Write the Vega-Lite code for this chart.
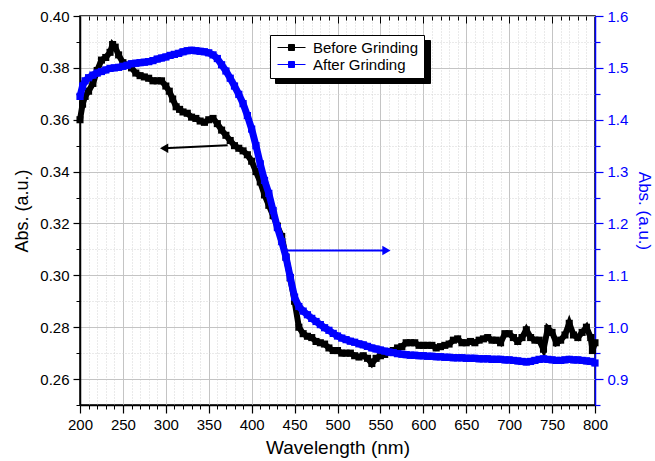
{
  "$schema": "https://vega.github.io/schema/vega-lite/v6.json",
  "width": 515,
  "height": 389,
  "autosize": {"type": "none"},
  "padding": {"left": 80, "top": 16, "right": 60, "bottom": 56},
  "background": "white",
  "config": {
    "view": {"stroke": "black", "strokeWidth": 1.5},
    "font": "Liberation Sans",
    "axis": {"labelFont": "Liberation Sans", "titleFont": "Liberation Sans", "labelFontSize": 15, "titleFontSize": 18, "titleFontWeight": "normal", "labelFlush": false},
    "legend": {"labelFont": "Liberation Sans"}
  },
  "datasets": {
    "spectra": [
      {"wl": 200, "abs": 0.360, "series": "Before Grinding"},
      {"wl": 203, "abs": 0.366, "series": "Before Grinding"},
      {"wl": 206, "abs": 0.369, "series": "Before Grinding"},
      {"wl": 210, "abs": 0.371, "series": "Before Grinding"},
      {"wl": 215, "abs": 0.374, "series": "Before Grinding"},
      {"wl": 220, "abs": 0.379, "series": "Before Grinding"},
      {"wl": 225, "abs": 0.383, "series": "Before Grinding"},
      {"wl": 230, "abs": 0.384, "series": "Before Grinding"},
      {"wl": 235, "abs": 0.386, "series": "Before Grinding"},
      {"wl": 238, "abs": 0.389, "series": "Before Grinding"},
      {"wl": 241, "abs": 0.388, "series": "Before Grinding"},
      {"wl": 245, "abs": 0.385, "series": "Before Grinding"},
      {"wl": 250, "abs": 0.382, "series": "Before Grinding"},
      {"wl": 255, "abs": 0.381, "series": "Before Grinding"},
      {"wl": 260, "abs": 0.380, "series": "Before Grinding"},
      {"wl": 265, "abs": 0.378, "series": "Before Grinding"},
      {"wl": 270, "abs": 0.377, "series": "Before Grinding"},
      {"wl": 275, "abs": 0.3765, "series": "Before Grinding"},
      {"wl": 280, "abs": 0.376, "series": "Before Grinding"},
      {"wl": 285, "abs": 0.375, "series": "Before Grinding"},
      {"wl": 290, "abs": 0.375, "series": "Before Grinding"},
      {"wl": 295, "abs": 0.375, "series": "Before Grinding"},
      {"wl": 300, "abs": 0.373, "series": "Before Grinding"},
      {"wl": 304, "abs": 0.371, "series": "Before Grinding"},
      {"wl": 308, "abs": 0.368, "series": "Before Grinding"},
      {"wl": 312, "abs": 0.365, "series": "Before Grinding"},
      {"wl": 316, "abs": 0.364, "series": "Before Grinding"},
      {"wl": 320, "abs": 0.363, "series": "Before Grinding"},
      {"wl": 325, "abs": 0.3625, "series": "Before Grinding"},
      {"wl": 330, "abs": 0.361, "series": "Before Grinding"},
      {"wl": 335, "abs": 0.3605, "series": "Before Grinding"},
      {"wl": 340, "abs": 0.3595, "series": "Before Grinding"},
      {"wl": 345, "abs": 0.359, "series": "Before Grinding"},
      {"wl": 350, "abs": 0.360, "series": "Before Grinding"},
      {"wl": 355, "abs": 0.3605, "series": "Before Grinding"},
      {"wl": 360, "abs": 0.3585, "series": "Before Grinding"},
      {"wl": 365, "abs": 0.356, "series": "Before Grinding"},
      {"wl": 370, "abs": 0.354, "series": "Before Grinding"},
      {"wl": 375, "abs": 0.352, "series": "Before Grinding"},
      {"wl": 380, "abs": 0.350, "series": "Before Grinding"},
      {"wl": 385, "abs": 0.349, "series": "Before Grinding"},
      {"wl": 390, "abs": 0.348, "series": "Before Grinding"},
      {"wl": 395, "abs": 0.3465, "series": "Before Grinding"},
      {"wl": 400, "abs": 0.344, "series": "Before Grinding"},
      {"wl": 405, "abs": 0.340, "series": "Before Grinding"},
      {"wl": 410, "abs": 0.336, "series": "Before Grinding"},
      {"wl": 415, "abs": 0.331, "series": "Before Grinding"},
      {"wl": 420, "abs": 0.327, "series": "Before Grinding"},
      {"wl": 425, "abs": 0.323, "series": "Before Grinding"},
      {"wl": 430, "abs": 0.319, "series": "Before Grinding"},
      {"wl": 435, "abs": 0.315, "series": "Before Grinding"},
      {"wl": 440, "abs": 0.307, "series": "Before Grinding"},
      {"wl": 445, "abs": 0.299, "series": "Before Grinding"},
      {"wl": 450, "abs": 0.290, "series": "Before Grinding"},
      {"wl": 455, "abs": 0.280, "series": "Before Grinding"},
      {"wl": 460, "abs": 0.2775, "series": "Before Grinding"},
      {"wl": 465, "abs": 0.2765, "series": "Before Grinding"},
      {"wl": 470, "abs": 0.276, "series": "Before Grinding"},
      {"wl": 475, "abs": 0.2745, "series": "Before Grinding"},
      {"wl": 480, "abs": 0.274, "series": "Before Grinding"},
      {"wl": 485, "abs": 0.2735, "series": "Before Grinding"},
      {"wl": 490, "abs": 0.272, "series": "Before Grinding"},
      {"wl": 495, "abs": 0.271, "series": "Before Grinding"},
      {"wl": 500, "abs": 0.271, "series": "Before Grinding"},
      {"wl": 505, "abs": 0.270, "series": "Before Grinding"},
      {"wl": 510, "abs": 0.270, "series": "Before Grinding"},
      {"wl": 515, "abs": 0.270, "series": "Before Grinding"},
      {"wl": 520, "abs": 0.269, "series": "Before Grinding"},
      {"wl": 525, "abs": 0.2685, "series": "Before Grinding"},
      {"wl": 530, "abs": 0.269, "series": "Before Grinding"},
      {"wl": 535, "abs": 0.268, "series": "Before Grinding"},
      {"wl": 540, "abs": 0.266, "series": "Before Grinding"},
      {"wl": 545, "abs": 0.268, "series": "Before Grinding"},
      {"wl": 550, "abs": 0.269, "series": "Before Grinding"},
      {"wl": 555, "abs": 0.2695, "series": "Before Grinding"},
      {"wl": 560, "abs": 0.2705, "series": "Before Grinding"},
      {"wl": 565, "abs": 0.271, "series": "Before Grinding"},
      {"wl": 570, "abs": 0.272, "series": "Before Grinding"},
      {"wl": 575, "abs": 0.2725, "series": "Before Grinding"},
      {"wl": 580, "abs": 0.274, "series": "Before Grinding"},
      {"wl": 585, "abs": 0.274, "series": "Before Grinding"},
      {"wl": 590, "abs": 0.274, "series": "Before Grinding"},
      {"wl": 595, "abs": 0.273, "series": "Before Grinding"},
      {"wl": 600, "abs": 0.273, "series": "Before Grinding"},
      {"wl": 605, "abs": 0.273, "series": "Before Grinding"},
      {"wl": 610, "abs": 0.273, "series": "Before Grinding"},
      {"wl": 615, "abs": 0.272, "series": "Before Grinding"},
      {"wl": 620, "abs": 0.2725, "series": "Before Grinding"},
      {"wl": 625, "abs": 0.273, "series": "Before Grinding"},
      {"wl": 630, "abs": 0.2735, "series": "Before Grinding"},
      {"wl": 635, "abs": 0.275, "series": "Before Grinding"},
      {"wl": 640, "abs": 0.2755, "series": "Before Grinding"},
      {"wl": 645, "abs": 0.274, "series": "Before Grinding"},
      {"wl": 650, "abs": 0.274, "series": "Before Grinding"},
      {"wl": 655, "abs": 0.2745, "series": "Before Grinding"},
      {"wl": 660, "abs": 0.274, "series": "Before Grinding"},
      {"wl": 665, "abs": 0.275, "series": "Before Grinding"},
      {"wl": 670, "abs": 0.2755, "series": "Before Grinding"},
      {"wl": 675, "abs": 0.276, "series": "Before Grinding"},
      {"wl": 680, "abs": 0.275, "series": "Before Grinding"},
      {"wl": 685, "abs": 0.275, "series": "Before Grinding"},
      {"wl": 690, "abs": 0.274, "series": "Before Grinding"},
      {"wl": 695, "abs": 0.2775, "series": "Before Grinding"},
      {"wl": 700, "abs": 0.2775, "series": "Before Grinding"},
      {"wl": 705, "abs": 0.276, "series": "Before Grinding"},
      {"wl": 710, "abs": 0.2745, "series": "Before Grinding"},
      {"wl": 715, "abs": 0.276, "series": "Before Grinding"},
      {"wl": 720, "abs": 0.279, "series": "Before Grinding"},
      {"wl": 725, "abs": 0.276, "series": "Before Grinding"},
      {"wl": 730, "abs": 0.275, "series": "Before Grinding"},
      {"wl": 735, "abs": 0.275, "series": "Before Grinding"},
      {"wl": 740, "abs": 0.2715, "series": "Before Grinding"},
      {"wl": 745, "abs": 0.2795, "series": "Before Grinding"},
      {"wl": 750, "abs": 0.278, "series": "Before Grinding"},
      {"wl": 755, "abs": 0.274, "series": "Before Grinding"},
      {"wl": 760, "abs": 0.275, "series": "Before Grinding"},
      {"wl": 765, "abs": 0.277, "series": "Before Grinding"},
      {"wl": 770, "abs": 0.2815, "series": "Before Grinding"},
      {"wl": 775, "abs": 0.277, "series": "Before Grinding"},
      {"wl": 780, "abs": 0.276, "series": "Before Grinding"},
      {"wl": 785, "abs": 0.278, "series": "Before Grinding"},
      {"wl": 790, "abs": 0.280, "series": "Before Grinding"},
      {"wl": 795, "abs": 0.276, "series": "Before Grinding"},
      {"wl": 797, "abs": 0.271, "series": "Before Grinding"},
      {"wl": 800, "abs": 0.274, "series": "Before Grinding"},
      {"wl": 200, "abs": 1.445, "series": "After Grinding"},
      {"wl": 203, "abs": 1.465, "series": "After Grinding"},
      {"wl": 206, "abs": 1.475, "series": "After Grinding"},
      {"wl": 210, "abs": 1.481, "series": "After Grinding"},
      {"wl": 215, "abs": 1.486, "series": "After Grinding"},
      {"wl": 220, "abs": 1.490, "series": "After Grinding"},
      {"wl": 225, "abs": 1.493, "series": "After Grinding"},
      {"wl": 230, "abs": 1.496, "series": "After Grinding"},
      {"wl": 235, "abs": 1.499, "series": "After Grinding"},
      {"wl": 240, "abs": 1.500, "series": "After Grinding"},
      {"wl": 245, "abs": 1.501, "series": "After Grinding"},
      {"wl": 250, "abs": 1.503, "series": "After Grinding"},
      {"wl": 255, "abs": 1.505, "series": "After Grinding"},
      {"wl": 260, "abs": 1.508, "series": "After Grinding"},
      {"wl": 265, "abs": 1.509, "series": "After Grinding"},
      {"wl": 270, "abs": 1.510, "series": "After Grinding"},
      {"wl": 275, "abs": 1.511, "series": "After Grinding"},
      {"wl": 280, "abs": 1.512, "series": "After Grinding"},
      {"wl": 285, "abs": 1.514, "series": "After Grinding"},
      {"wl": 290, "abs": 1.517, "series": "After Grinding"},
      {"wl": 295, "abs": 1.519, "series": "After Grinding"},
      {"wl": 300, "abs": 1.521, "series": "After Grinding"},
      {"wl": 305, "abs": 1.524, "series": "After Grinding"},
      {"wl": 310, "abs": 1.526, "series": "After Grinding"},
      {"wl": 315, "abs": 1.528, "series": "After Grinding"},
      {"wl": 320, "abs": 1.531, "series": "After Grinding"},
      {"wl": 325, "abs": 1.533, "series": "After Grinding"},
      {"wl": 330, "abs": 1.534, "series": "After Grinding"},
      {"wl": 335, "abs": 1.533, "series": "After Grinding"},
      {"wl": 340, "abs": 1.532, "series": "After Grinding"},
      {"wl": 345, "abs": 1.531, "series": "After Grinding"},
      {"wl": 350, "abs": 1.529, "series": "After Grinding"},
      {"wl": 355, "abs": 1.525, "series": "After Grinding"},
      {"wl": 360, "abs": 1.518, "series": "After Grinding"},
      {"wl": 365, "abs": 1.506, "series": "After Grinding"},
      {"wl": 370, "abs": 1.494, "series": "After Grinding"},
      {"wl": 375, "abs": 1.480, "series": "After Grinding"},
      {"wl": 380, "abs": 1.465, "series": "After Grinding"},
      {"wl": 385, "abs": 1.449, "series": "After Grinding"},
      {"wl": 390, "abs": 1.431, "series": "After Grinding"},
      {"wl": 395, "abs": 1.408, "series": "After Grinding"},
      {"wl": 400, "abs": 1.382, "series": "After Grinding"},
      {"wl": 405, "abs": 1.350, "series": "After Grinding"},
      {"wl": 410, "abs": 1.315, "series": "After Grinding"},
      {"wl": 415, "abs": 1.283, "series": "After Grinding"},
      {"wl": 420, "abs": 1.258, "series": "After Grinding"},
      {"wl": 425, "abs": 1.225, "series": "After Grinding"},
      {"wl": 430, "abs": 1.192, "series": "After Grinding"},
      {"wl": 435, "abs": 1.165, "series": "After Grinding"},
      {"wl": 440, "abs": 1.135, "series": "After Grinding"},
      {"wl": 445, "abs": 1.096, "series": "After Grinding"},
      {"wl": 450, "abs": 1.058, "series": "After Grinding"},
      {"wl": 455, "abs": 1.040, "series": "After Grinding"},
      {"wl": 460, "abs": 1.031, "series": "After Grinding"},
      {"wl": 465, "abs": 1.024, "series": "After Grinding"},
      {"wl": 470, "abs": 1.017, "series": "After Grinding"},
      {"wl": 475, "abs": 1.011, "series": "After Grinding"},
      {"wl": 480, "abs": 1.005, "series": "After Grinding"},
      {"wl": 485, "abs": 0.999, "series": "After Grinding"},
      {"wl": 490, "abs": 0.994, "series": "After Grinding"},
      {"wl": 495, "abs": 0.988, "series": "After Grinding"},
      {"wl": 500, "abs": 0.983, "series": "After Grinding"},
      {"wl": 505, "abs": 0.979, "series": "After Grinding"},
      {"wl": 510, "abs": 0.976, "series": "After Grinding"},
      {"wl": 515, "abs": 0.973, "series": "After Grinding"},
      {"wl": 520, "abs": 0.971, "series": "After Grinding"},
      {"wl": 525, "abs": 0.968, "series": "After Grinding"},
      {"wl": 530, "abs": 0.966, "series": "After Grinding"},
      {"wl": 535, "abs": 0.963, "series": "After Grinding"},
      {"wl": 540, "abs": 0.960, "series": "After Grinding"},
      {"wl": 545, "abs": 0.958, "series": "After Grinding"},
      {"wl": 550, "abs": 0.956, "series": "After Grinding"},
      {"wl": 555, "abs": 0.954, "series": "After Grinding"},
      {"wl": 560, "abs": 0.952, "series": "After Grinding"},
      {"wl": 565, "abs": 0.951, "series": "After Grinding"},
      {"wl": 570, "abs": 0.949, "series": "After Grinding"},
      {"wl": 575, "abs": 0.948, "series": "After Grinding"},
      {"wl": 580, "abs": 0.947, "series": "After Grinding"},
      {"wl": 585, "abs": 0.946, "series": "After Grinding"},
      {"wl": 590, "abs": 0.946, "series": "After Grinding"},
      {"wl": 595, "abs": 0.945, "series": "After Grinding"},
      {"wl": 600, "abs": 0.945, "series": "After Grinding"},
      {"wl": 605, "abs": 0.944, "series": "After Grinding"},
      {"wl": 610, "abs": 0.944, "series": "After Grinding"},
      {"wl": 615, "abs": 0.943, "series": "After Grinding"},
      {"wl": 620, "abs": 0.943, "series": "After Grinding"},
      {"wl": 625, "abs": 0.942, "series": "After Grinding"},
      {"wl": 630, "abs": 0.942, "series": "After Grinding"},
      {"wl": 635, "abs": 0.941, "series": "After Grinding"},
      {"wl": 640, "abs": 0.941, "series": "After Grinding"},
      {"wl": 645, "abs": 0.941, "series": "After Grinding"},
      {"wl": 650, "abs": 0.940, "series": "After Grinding"},
      {"wl": 655, "abs": 0.940, "series": "After Grinding"},
      {"wl": 660, "abs": 0.940, "series": "After Grinding"},
      {"wl": 665, "abs": 0.939, "series": "After Grinding"},
      {"wl": 670, "abs": 0.939, "series": "After Grinding"},
      {"wl": 675, "abs": 0.939, "series": "After Grinding"},
      {"wl": 680, "abs": 0.938, "series": "After Grinding"},
      {"wl": 685, "abs": 0.938, "series": "After Grinding"},
      {"wl": 690, "abs": 0.938, "series": "After Grinding"},
      {"wl": 695, "abs": 0.937, "series": "After Grinding"},
      {"wl": 700, "abs": 0.937, "series": "After Grinding"},
      {"wl": 705, "abs": 0.936, "series": "After Grinding"},
      {"wl": 710, "abs": 0.935, "series": "After Grinding"},
      {"wl": 715, "abs": 0.934, "series": "After Grinding"},
      {"wl": 720, "abs": 0.933, "series": "After Grinding"},
      {"wl": 725, "abs": 0.934, "series": "After Grinding"},
      {"wl": 730, "abs": 0.936, "series": "After Grinding"},
      {"wl": 735, "abs": 0.938, "series": "After Grinding"},
      {"wl": 740, "abs": 0.939, "series": "After Grinding"},
      {"wl": 745, "abs": 0.938, "series": "After Grinding"},
      {"wl": 750, "abs": 0.937, "series": "After Grinding"},
      {"wl": 755, "abs": 0.936, "series": "After Grinding"},
      {"wl": 760, "abs": 0.936, "series": "After Grinding"},
      {"wl": 765, "abs": 0.937, "series": "After Grinding"},
      {"wl": 770, "abs": 0.938, "series": "After Grinding"},
      {"wl": 775, "abs": 0.937, "series": "After Grinding"},
      {"wl": 780, "abs": 0.937, "series": "After Grinding"},
      {"wl": 785, "abs": 0.936, "series": "After Grinding"},
      {"wl": 790, "abs": 0.935, "series": "After Grinding"},
      {"wl": 795, "abs": 0.934, "series": "After Grinding"},
      {"wl": 800, "abs": 0.931, "series": "After Grinding"}
    ],
    "arrows": [
      {"arrow": "left", "x_start": 372, "y_start": 0.3502, "x_end": 298, "y_end": 0.3490},
      {"arrow": "right", "x_start": 441, "y_start": 1.148, "x_end": 557, "y_end": 1.148}
    ]
  },
  "resolve": {"scale": {"x": "independent", "y": "independent"}, "axis": {"x": "independent", "y": "independent"}},
  "layer": [
    {
      "data": {"name": "spectra"},
      "transform": [{"filter": "datum.series === 'Before Grinding'"}],
      "mark": {"type": "point", "opacity": 0},
      "encoding": {
        "x": {"field": "wl", "type": "quantitative", "scale": {"domain": [200, 800], "nice": false, "zero": false},
          "axis": {"orient": "bottom", "values": [210,220,230,240,260,270,280,290,310,320,330,340,360,370,380,390,410,420,430,440,460,470,480,490,510,520,530,540,560,570,580,590,610,620,630,640,660,670,680,690,710,720,730,740,760,770,780,790],
            "labels": false, "domain": false, "title": null, "tickSize": 4, "tickColor": "black", "tickWidth": 1,
            "grid": true, "gridColor": "#d4d4d4", "gridDash": [1, 2], "gridWidth": 1}},
        "y": {"field": "abs", "type": "quantitative", "scale": {"domain": [0.25, 0.40], "nice": false, "zero": false},
          "axis": {"orient": "left", "values": [0.25,0.27,0.29,0.31,0.33,0.35,0.37,0.39],
            "labels": false, "domain": false, "title": null, "tickSize": 4, "tickColor": "black", "tickWidth": 1,
            "grid": true, "gridColor": "#d4d4d4", "gridDash": [1, 2], "gridWidth": 1}},
        "shape": {"field": "series", "type": "nominal",
          "scale": {"domain": ["After Grinding", "Before Grinding"], "range": ["square", "square"]},
          "legend": {"orient": "none", "legendX": 195, "legendY": 24, "title": null, "zindex": 1,
            "fillColor": "black", "strokeColor": "black", "padding": 5,
            "labelFontSize": 15, "labelColor": "transparent", "symbolOpacity": 0,
            "symbolSize": 196, "symbolOffset": 9, "labelOffset": 14, "rowPadding": 1}}
      }
    },
    {
      "data": {"name": "spectra"},
      "transform": [{"filter": "datum.series === 'After Grinding'"}],
      "mark": {"type": "point", "opacity": 0},
      "encoding": {
        "x": {"field": "wl", "type": "quantitative", "scale": {"domain": [200, 800], "nice": false, "zero": false},
          "axis": {"orient": "top", "values": [200,250,300,350,400,450,500,550,600,650,700,750,800],
            "labels": false, "domain": false, "title": null, "tickSize": -7, "tickColor": "black", "tickWidth": 1, "grid": false}},
        "y": {"field": "abs", "type": "quantitative", "scale": {"domain": [0.85, 1.6], "nice": false, "zero": false},
          "axis": {"orient": "right", "values": [0.85,0.95,1.05,1.15,1.25,1.35,1.45,1.55],
            "labels": false, "domain": false, "title": null, "tickSize": 5, "tickColor": "#0000ff", "tickWidth": 1.2, "grid": false}}
      }
    },
    {
      "data": {"name": "spectra"},
      "transform": [{"filter": "datum.series === 'After Grinding'"}],
      "mark": {"type": "point", "opacity": 0},
      "encoding": {
        "x": {"field": "wl", "type": "quantitative", "scale": {"domain": [200, 800], "nice": false, "zero": false},
          "axis": {"orient": "top", "values": [210,220,230,240,260,270,280,290,310,320,330,340,360,370,380,390,410,420,430,440,460,470,480,490,510,520,530,540,560,570,580,590,610,620,630,640,660,670,680,690,710,720,730,740,760,770,780,790],
            "labels": false, "domain": false, "title": null, "tickSize": -4, "tickColor": "black", "tickWidth": 1, "grid": false}},
        "y": {"field": "abs", "type": "quantitative", "scale": {"domain": [0.85, 1.6], "nice": false, "zero": false}, "axis": null}
      }
    },
    {
      "data": {"name": "spectra"},
      "transform": [{"filter": "datum.series === 'Before Grinding'"}],
      "mark": {"type": "line", "strokeWidth": 6, "interpolate": "linear", "point": {"shape": "square", "size": 50, "filled": true, "opacity": 1}},
      "encoding": {
        "x": {"field": "wl", "type": "quantitative", "scale": {"domain": [200, 800], "nice": false, "zero": false},
          "axis": {"orient": "bottom", "values": [200,250,300,350,400,450,500,550,600,650,700,750,800], "format": "d",
            "title": "Wavelength (nm)", "titleFontSize": 19, "titlePadding": 6, "titleColor": "black",
            "labelColor": "black", "labelPadding": 4, "tickSize": 8, "tickColor": "black", "tickWidth": 1.2,
            "domain": true, "domainColor": "black", "domainWidth": 1.5,
            "grid": true, "gridColor": "#c4c4c4", "gridWidth": 1}},
        "y": {"field": "abs", "type": "quantitative", "scale": {"domain": [0.25, 0.40], "nice": false, "zero": false},
          "axis": {"orient": "left", "values": [0.26,0.28,0.30,0.32,0.34,0.36,0.38,0.40], "format": ".2f",
            "title": "Abs. (a.u.)", "titleFontSize": 18, "titlePadding": 8, "titleColor": "black",
            "labelColor": "black", "labelPadding": 4, "tickSize": 7, "tickColor": "black", "tickWidth": 1.2,
            "domain": true, "domainColor": "black", "domainWidth": 1.5,
            "grid": true, "gridColor": "#c4c4c4", "gridWidth": 1}},
        "color": {"field": "series", "type": "nominal",
          "scale": {"domain": ["Before Grinding", "After Grinding"], "range": ["#000000", "#0000ff"]},
          "legend": {"orient": "none", "legendX": 190, "legendY": 19, "title": null, "zindex": 2,
            "fillColor": "white", "strokeColor": "black", "padding": 5,
            "labelFontSize": 15, "labelColor": "black", "rowPadding": 1,
            "symbolType": "M-2,0H-0.5M0.5,0H2M-0.43,-0.43H0.43V0.43H-0.43Z",
            "symbolSize": 196, "symbolOffset": 9, "labelOffset": 14,
            "symbolStrokeWidth": 1, "symbolOpacity": 1}}
      }
    },
    {
      "data": {"name": "spectra"},
      "transform": [{"filter": "datum.series === 'After Grinding'"}],
      "mark": {"type": "line", "strokeWidth": 7, "interpolate": "linear", "point": {"shape": "square", "size": 52, "filled": true, "opacity": 1}},
      "encoding": {
        "x": {"field": "wl", "type": "quantitative", "scale": {"domain": [200, 800], "nice": false, "zero": false}, "axis": null},
        "y": {"field": "abs", "type": "quantitative", "scale": {"domain": [0.85, 1.6], "nice": false, "zero": false},
          "axis": {"orient": "right", "values": [0.9,1.0,1.1,1.2,1.3,1.4,1.5,1.6], "format": ".1f",
            "title": "Abs. (a.u.)", "titleFontSize": 17, "titlePadding": 7, "titleColor": "#0000ff", "titleAngle": 90,
            "labelColor": "#0000ff", "labelPadding": 4, "tickSize": 8, "tickColor": "#0000ff", "tickWidth": 1.2,
            "domain": true, "domainColor": "#0000ff", "domainWidth": 1.5, "grid": false}},
        "color": {"field": "series", "type": "nominal"}
      }
    },
    {
      "data": {"name": "arrows"},
      "transform": [{"filter": "datum.arrow === 'left'"}],
      "layer": [
        {"mark": {"type": "rule", "color": "black", "strokeWidth": 2},
         "encoding": {
           "x": {"field": "x_start", "type": "quantitative", "scale": {"domain": [200, 800], "nice": false, "zero": false}, "axis": null},
           "x2": {"field": "x_end"},
           "y": {"field": "y_start", "type": "quantitative", "scale": {"domain": [0.25, 0.40], "nice": false, "zero": false}, "axis": null},
           "y2": {"field": "y_end"}}},
        {"mark": {"type": "point", "shape": "triangle-left", "filled": true, "color": "black", "size": 90, "opacity": 1},
         "encoding": {
           "x": {"field": "x_end", "type": "quantitative", "scale": {"domain": [200, 800], "nice": false, "zero": false}, "axis": null},
           "y": {"field": "y_end", "type": "quantitative", "scale": {"domain": [0.25, 0.40], "nice": false, "zero": false}, "axis": null}}}
      ]
    },
    {
      "data": {"name": "arrows"},
      "transform": [{"filter": "datum.arrow === 'right'"}],
      "layer": [
        {"mark": {"type": "rule", "color": "#0000ff", "strokeWidth": 2},
         "encoding": {
           "x": {"field": "x_start", "type": "quantitative", "scale": {"domain": [200, 800], "nice": false, "zero": false}, "axis": null},
           "x2": {"field": "x_end"},
           "y": {"field": "y_start", "type": "quantitative", "scale": {"domain": [0.85, 1.6], "nice": false, "zero": false}, "axis": null},
           "y2": {"field": "y_end"}}},
        {"mark": {"type": "point", "shape": "triangle-right", "filled": true, "color": "#0000ff", "size": 90, "opacity": 1},
         "encoding": {
           "x": {"field": "x_end", "type": "quantitative", "scale": {"domain": [200, 800], "nice": false, "zero": false}, "axis": null},
           "y": {"field": "y_end", "type": "quantitative", "scale": {"domain": [0.85, 1.6], "nice": false, "zero": false}, "axis": null}}}
      ]
    }
  ]
}
